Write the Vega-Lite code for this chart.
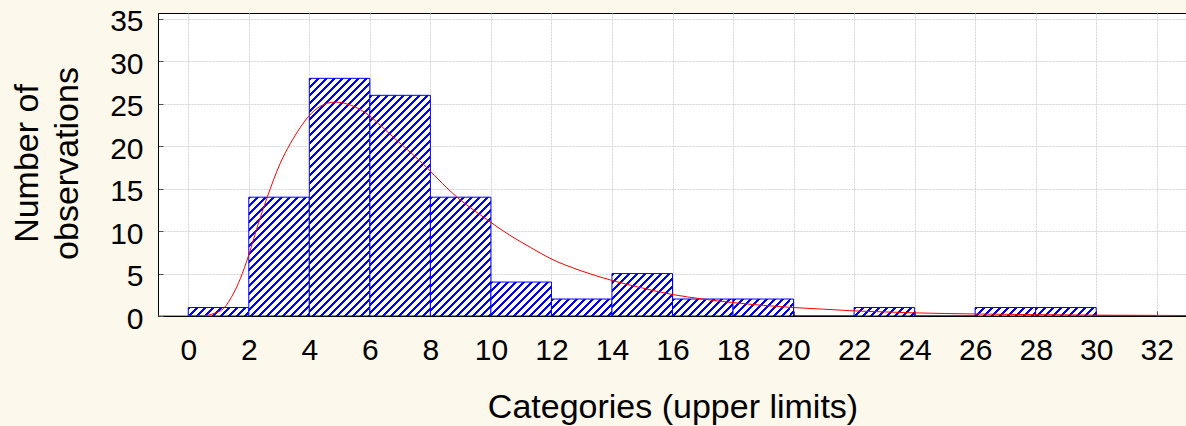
{
 "$schema": "https://vega.github.io/schema/vega-lite/v6.json",
 "width": 1029,
 "height": 303,
 "autosize": {"type": "none"},
 "padding": {"left": 158, "top": 13, "right": 0, "bottom": 110},
 "background": "#fdf8ec",
 "config": {
  "view": {"fill": "#ffffff", "stroke": "#000000", "strokeWidth": 1},
  "axis": {"labelFont": "Liberation Sans", "titleFont": "Liberation Sans", "labelColor": "#000000", "titleColor": "#000000", "titleFontWeight": "normal", "domainColor": "#000000", "tickColor": "#555555", "gridColor": "#d4d4d4", "gridDash": [2, 1], "labelFlush": false, "labelOverlap": false}
 },
 "datasets": {
  "bins": [
   {"start": 0, "end": 2, "count": 1},
   {"start": 2, "end": 4, "count": 14},
   {"start": 4, "end": 6, "count": 28},
   {"start": 6, "end": 8, "count": 26},
   {"start": 8, "end": 10, "count": 14},
   {"start": 10, "end": 12, "count": 4},
   {"start": 12, "end": 14, "count": 2},
   {"start": 14, "end": 16, "count": 5},
   {"start": 16, "end": 18, "count": 2},
   {"start": 18, "end": 20, "count": 2},
   {"start": 20, "end": 22, "count": 0},
   {"start": 22, "end": 24, "count": 1},
   {"start": 24, "end": 26, "count": 0},
   {"start": 26, "end": 28, "count": 1},
   {"start": 28, "end": 30, "count": 1},
   {"start": 30, "end": 32, "count": 0}
  ],
  "fit": [
   {"x": -1, "y": 0}, {"x": 0.3, "y": 0}, {"x": 0.5, "y": 0.02}, {"x": 0.85, "y": 0.3}, {"x": 1.17, "y": 0.9},
   {"x": 1.5, "y": 2.7}, {"x": 1.72, "y": 4.4}, {"x": 2.0, "y": 7.2}, {"x": 2.3, "y": 10.7}, {"x": 2.6, "y": 13.9},
   {"x": 3.04, "y": 18.0}, {"x": 3.37, "y": 20.3}, {"x": 3.7, "y": 22.2}, {"x": 3.97, "y": 23.5}, {"x": 4.36, "y": 24.7},
   {"x": 4.85, "y": 25.2}, {"x": 5.4, "y": 24.8}, {"x": 5.95, "y": 23.7}, {"x": 6.4, "y": 22.3}, {"x": 6.89, "y": 20.7},
   {"x": 7.4, "y": 19.1}, {"x": 7.88, "y": 17.5}, {"x": 8.4, "y": 15.6}, {"x": 8.98, "y": 13.7}, {"x": 9.5, "y": 12.3},
   {"x": 9.97, "y": 11.1}, {"x": 10.63, "y": 9.5}, {"x": 11.3, "y": 8.1}, {"x": 11.95, "y": 6.8}, {"x": 13.0, "y": 5.3},
   {"x": 13.99, "y": 4.2}, {"x": 15.0, "y": 3.3}, {"x": 15.97, "y": 2.55}, {"x": 17.0, "y": 2.0}, {"x": 17.95, "y": 1.6},
   {"x": 19.0, "y": 1.25}, {"x": 19.98, "y": 1.0}, {"x": 21.0, "y": 0.8}, {"x": 21.85, "y": 0.63}, {"x": 23, "y": 0.48},
   {"x": 24, "y": 0.37}, {"x": 26, "y": 0.24}, {"x": 28, "y": 0.16}, {"x": 30, "y": 0.1}, {"x": 32, "y": 0.07}, {"x": 33, "y": 0.06}
  ]
 },
 "layer": [
  {
   "data": {"name": "bins"},
   "mark": {"type": "rect", "stroke": "#0000ff", "strokeWidth": 1, "clip": true},
   "encoding": {
    "x": {"field": "start", "type": "quantitative", "scale": {"domain": [-1, 33], "nice": false, "zero": false},
     "axis": {"values": [0, 2, 4, 6, 8, 10, 12, 14, 16, 18, 20, 22, 24, 26, 28, 30, 32], "title": "Categories (upper limits)", "labelFontSize": 30, "titleFontSize": 34, "ticks": true, "tickSize": -5, "labelPadding": 24, "grid": true, "titleY": 101, "titleBaseline": "alphabetic"}},
    "x2": {"field": "end"},
    "y": {"field": "count", "type": "quantitative", "scale": {"domain": [0, 35.7], "nice": false},
     "axis": {"values": [0, 5, 10, 15, 20, 25, 30, 35], "title": ["Number of", "observations"], "labelFontSize": 30, "titleFontSize": 34, "ticks": true, "tickSize": -5, "labelPadding": 20, "labelOffset": 3, "grid": true, "titleX": -121, "titleY": 150, "titleAngle": -90, "titleAlign": "center", "titleBaseline": "alphabetic", "titleLineHeight": 40}},
    "y2": {"datum": 0},
    "fill": {
     "condition": [
      {"test": "datum.count == 1", "value": {"gradient": "linear", "x1": 0, "y1": 0, "x2": 1.1655, "y2": 0.16325, "stops": [
       {"offset": 0, "color": "#00f"}, {"offset": 0.0417, "color": "#00f"}, {"offset": 0.0417, "color": "#fff"}, {"offset": 0.1111, "color": "#fff"},
       {"offset": 0.1111, "color": "#00f"}, {"offset": 0.1528, "color": "#00f"}, {"offset": 0.1528, "color": "#fff"}, {"offset": 0.2222, "color": "#fff"},
       {"offset": 0.2222, "color": "#00f"}, {"offset": 0.2639, "color": "#00f"}, {"offset": 0.2639, "color": "#fff"}, {"offset": 0.3333, "color": "#fff"},
       {"offset": 0.3333, "color": "#00f"}, {"offset": 0.375, "color": "#00f"}, {"offset": 0.375, "color": "#fff"}, {"offset": 0.4444, "color": "#fff"},
       {"offset": 0.4444, "color": "#00f"}, {"offset": 0.4861, "color": "#00f"}, {"offset": 0.4861, "color": "#fff"}, {"offset": 0.5556, "color": "#fff"},
       {"offset": 0.5556, "color": "#00f"}, {"offset": 0.5972, "color": "#00f"}, {"offset": 0.5972, "color": "#fff"}, {"offset": 0.6667, "color": "#fff"},
       {"offset": 0.6667, "color": "#00f"}, {"offset": 0.7083, "color": "#00f"}, {"offset": 0.7083, "color": "#fff"}, {"offset": 0.7778, "color": "#fff"},
       {"offset": 0.7778, "color": "#00f"}, {"offset": 0.8194, "color": "#00f"}, {"offset": 0.8194, "color": "#fff"}, {"offset": 0.8889, "color": "#fff"},
       {"offset": 0.8889, "color": "#00f"}, {"offset": 0.9306, "color": "#00f"}, {"offset": 0.9306, "color": "#fff"}, {"offset": 1, "color": "#fff"}
      ]}},
      {"test": "datum.count == 2", "value": {"gradient": "linear", "x1": 0, "y1": 0, "x2": 1.2243, "y2": 0.343, "stops": [
       {"offset": 0, "color": "#00f"}, {"offset": 0.0375, "color": "#00f"}, {"offset": 0.0375, "color": "#fff"}, {"offset": 0.1, "color": "#fff"},
       {"offset": 0.1, "color": "#00f"}, {"offset": 0.1375, "color": "#00f"}, {"offset": 0.1375, "color": "#fff"}, {"offset": 0.2, "color": "#fff"},
       {"offset": 0.2, "color": "#00f"}, {"offset": 0.2375, "color": "#00f"}, {"offset": 0.2375, "color": "#fff"}, {"offset": 0.3, "color": "#fff"},
       {"offset": 0.3, "color": "#00f"}, {"offset": 0.3375, "color": "#00f"}, {"offset": 0.3375, "color": "#fff"}, {"offset": 0.4, "color": "#fff"},
       {"offset": 0.4, "color": "#00f"}, {"offset": 0.4375, "color": "#00f"}, {"offset": 0.4375, "color": "#fff"}, {"offset": 0.5, "color": "#fff"},
       {"offset": 0.5, "color": "#00f"}, {"offset": 0.5375, "color": "#00f"}, {"offset": 0.5375, "color": "#fff"}, {"offset": 0.6, "color": "#fff"},
       {"offset": 0.6, "color": "#00f"}, {"offset": 0.6375, "color": "#00f"}, {"offset": 0.6375, "color": "#fff"}, {"offset": 0.7, "color": "#fff"},
       {"offset": 0.7, "color": "#00f"}, {"offset": 0.7375, "color": "#00f"}, {"offset": 0.7375, "color": "#fff"}, {"offset": 0.8, "color": "#fff"},
       {"offset": 0.8, "color": "#00f"}, {"offset": 0.8375, "color": "#00f"}, {"offset": 0.8375, "color": "#fff"}, {"offset": 0.9, "color": "#fff"},
       {"offset": 0.9, "color": "#00f"}, {"offset": 0.9375, "color": "#00f"}, {"offset": 0.9375, "color": "#fff"}, {"offset": 1, "color": "#fff"}
      ]}},
      {"test": "datum.count == 4", "value": {"gradient": "linear", "x1": 0, "y1": 0, "x2": 1.2058, "y2": 0.6757, "stops": [
       {"offset": 0, "color": "#00f"}, {"offset": 0.0313, "color": "#00f"}, {"offset": 0.0313, "color": "#fff"}, {"offset": 0.0833, "color": "#fff"},
       {"offset": 0.0833, "color": "#00f"}, {"offset": 0.1146, "color": "#00f"}, {"offset": 0.1146, "color": "#fff"}, {"offset": 0.1667, "color": "#fff"},
       {"offset": 0.1667, "color": "#00f"}, {"offset": 0.1979, "color": "#00f"}, {"offset": 0.1979, "color": "#fff"}, {"offset": 0.25, "color": "#fff"},
       {"offset": 0.25, "color": "#00f"}, {"offset": 0.2813, "color": "#00f"}, {"offset": 0.2813, "color": "#fff"}, {"offset": 0.3333, "color": "#fff"},
       {"offset": 0.3333, "color": "#00f"}, {"offset": 0.3646, "color": "#00f"}, {"offset": 0.3646, "color": "#fff"}, {"offset": 0.4167, "color": "#fff"},
       {"offset": 0.4167, "color": "#00f"}, {"offset": 0.4479, "color": "#00f"}, {"offset": 0.4479, "color": "#fff"}, {"offset": 0.5, "color": "#fff"},
       {"offset": 0.5, "color": "#00f"}, {"offset": 0.5313, "color": "#00f"}, {"offset": 0.5313, "color": "#fff"}, {"offset": 0.5833, "color": "#fff"},
       {"offset": 0.5833, "color": "#00f"}, {"offset": 0.6146, "color": "#00f"}, {"offset": 0.6146, "color": "#fff"}, {"offset": 0.6667, "color": "#fff"},
       {"offset": 0.6667, "color": "#00f"}, {"offset": 0.6979, "color": "#00f"}, {"offset": 0.6979, "color": "#fff"}, {"offset": 0.75, "color": "#fff"},
       {"offset": 0.75, "color": "#00f"}, {"offset": 0.7813, "color": "#00f"}, {"offset": 0.7813, "color": "#fff"}, {"offset": 0.8333, "color": "#fff"},
       {"offset": 0.8333, "color": "#00f"}, {"offset": 0.8646, "color": "#00f"}, {"offset": 0.8646, "color": "#fff"}, {"offset": 0.9167, "color": "#fff"},
       {"offset": 0.9167, "color": "#00f"}, {"offset": 0.9479, "color": "#00f"}, {"offset": 0.9479, "color": "#fff"}, {"offset": 1, "color": "#fff"}
      ]}},
      {"test": "datum.count == 5", "value": {"gradient": "linear", "x1": 0, "y1": 0, "x2": 1.1515, "y2": 0.8066, "stops": [
       {"offset": 0, "color": "#00f"}, {"offset": 0.0288, "color": "#00f"}, {"offset": 0.0288, "color": "#fff"}, {"offset": 0.0769, "color": "#fff"},
       {"offset": 0.0769, "color": "#00f"}, {"offset": 0.1058, "color": "#00f"}, {"offset": 0.1058, "color": "#fff"}, {"offset": 0.1538, "color": "#fff"},
       {"offset": 0.1538, "color": "#00f"}, {"offset": 0.1827, "color": "#00f"}, {"offset": 0.1827, "color": "#fff"}, {"offset": 0.2308, "color": "#fff"},
       {"offset": 0.2308, "color": "#00f"}, {"offset": 0.2596, "color": "#00f"}, {"offset": 0.2596, "color": "#fff"}, {"offset": 0.3077, "color": "#fff"},
       {"offset": 0.3077, "color": "#00f"}, {"offset": 0.3365, "color": "#00f"}, {"offset": 0.3365, "color": "#fff"}, {"offset": 0.3846, "color": "#fff"},
       {"offset": 0.3846, "color": "#00f"}, {"offset": 0.4135, "color": "#00f"}, {"offset": 0.4135, "color": "#fff"}, {"offset": 0.4615, "color": "#fff"},
       {"offset": 0.4615, "color": "#00f"}, {"offset": 0.4904, "color": "#00f"}, {"offset": 0.4904, "color": "#fff"}, {"offset": 0.5385, "color": "#fff"},
       {"offset": 0.5385, "color": "#00f"}, {"offset": 0.5673, "color": "#00f"}, {"offset": 0.5673, "color": "#fff"}, {"offset": 0.6154, "color": "#fff"},
       {"offset": 0.6154, "color": "#00f"}, {"offset": 0.6442, "color": "#00f"}, {"offset": 0.6442, "color": "#fff"}, {"offset": 0.6923, "color": "#fff"},
       {"offset": 0.6923, "color": "#00f"}, {"offset": 0.7212, "color": "#00f"}, {"offset": 0.7212, "color": "#fff"}, {"offset": 0.7692, "color": "#fff"},
       {"offset": 0.7692, "color": "#00f"}, {"offset": 0.7981, "color": "#00f"}, {"offset": 0.7981, "color": "#fff"}, {"offset": 0.8462, "color": "#fff"},
       {"offset": 0.8462, "color": "#00f"}, {"offset": 0.875, "color": "#00f"}, {"offset": 0.875, "color": "#fff"}, {"offset": 0.9231, "color": "#fff"},
       {"offset": 0.9231, "color": "#00f"}, {"offset": 0.9519, "color": "#00f"}, {"offset": 0.9519, "color": "#fff"}, {"offset": 1, "color": "#fff"}
      ]}},
      {"test": "datum.count == 14", "value": {"gradient": "linear", "x1": 0, "y1": 0, "x2": 0.6267, "y2": 1.229, "stops": [
       {"offset": 0, "color": "#00f"}, {"offset": 0.0163, "color": "#00f"}, {"offset": 0.0163, "color": "#fff"}, {"offset": 0.0435, "color": "#fff"},
       {"offset": 0.0435, "color": "#00f"}, {"offset": 0.0598, "color": "#00f"}, {"offset": 0.0598, "color": "#fff"}, {"offset": 0.087, "color": "#fff"},
       {"offset": 0.087, "color": "#00f"}, {"offset": 0.1033, "color": "#00f"}, {"offset": 0.1033, "color": "#fff"}, {"offset": 0.1304, "color": "#fff"},
       {"offset": 0.1304, "color": "#00f"}, {"offset": 0.1467, "color": "#00f"}, {"offset": 0.1467, "color": "#fff"}, {"offset": 0.1739, "color": "#fff"},
       {"offset": 0.1739, "color": "#00f"}, {"offset": 0.1902, "color": "#00f"}, {"offset": 0.1902, "color": "#fff"}, {"offset": 0.2174, "color": "#fff"},
       {"offset": 0.2174, "color": "#00f"}, {"offset": 0.2337, "color": "#00f"}, {"offset": 0.2337, "color": "#fff"}, {"offset": 0.2609, "color": "#fff"},
       {"offset": 0.2609, "color": "#00f"}, {"offset": 0.2772, "color": "#00f"}, {"offset": 0.2772, "color": "#fff"}, {"offset": 0.3043, "color": "#fff"},
       {"offset": 0.3043, "color": "#00f"}, {"offset": 0.3207, "color": "#00f"}, {"offset": 0.3207, "color": "#fff"}, {"offset": 0.3478, "color": "#fff"},
       {"offset": 0.3478, "color": "#00f"}, {"offset": 0.3641, "color": "#00f"}, {"offset": 0.3641, "color": "#fff"}, {"offset": 0.3913, "color": "#fff"},
       {"offset": 0.3913, "color": "#00f"}, {"offset": 0.4076, "color": "#00f"}, {"offset": 0.4076, "color": "#fff"}, {"offset": 0.4348, "color": "#fff"},
       {"offset": 0.4348, "color": "#00f"}, {"offset": 0.4511, "color": "#00f"}, {"offset": 0.4511, "color": "#fff"}, {"offset": 0.4783, "color": "#fff"},
       {"offset": 0.4783, "color": "#00f"}, {"offset": 0.4946, "color": "#00f"}, {"offset": 0.4946, "color": "#fff"}, {"offset": 0.5217, "color": "#fff"},
       {"offset": 0.5217, "color": "#00f"}, {"offset": 0.538, "color": "#00f"}, {"offset": 0.538, "color": "#fff"}, {"offset": 0.5652, "color": "#fff"},
       {"offset": 0.5652, "color": "#00f"}, {"offset": 0.5815, "color": "#00f"}, {"offset": 0.5815, "color": "#fff"}, {"offset": 0.6087, "color": "#fff"},
       {"offset": 0.6087, "color": "#00f"}, {"offset": 0.625, "color": "#00f"}, {"offset": 0.625, "color": "#fff"}, {"offset": 0.6522, "color": "#fff"},
       {"offset": 0.6522, "color": "#00f"}, {"offset": 0.6685, "color": "#00f"}, {"offset": 0.6685, "color": "#fff"}, {"offset": 0.6957, "color": "#fff"},
       {"offset": 0.6957, "color": "#00f"}, {"offset": 0.712, "color": "#00f"}, {"offset": 0.712, "color": "#fff"}, {"offset": 0.7391, "color": "#fff"},
       {"offset": 0.7391, "color": "#00f"}, {"offset": 0.7554, "color": "#00f"}, {"offset": 0.7554, "color": "#fff"}, {"offset": 0.7826, "color": "#fff"},
       {"offset": 0.7826, "color": "#00f"}, {"offset": 0.7989, "color": "#00f"}, {"offset": 0.7989, "color": "#fff"}, {"offset": 0.8261, "color": "#fff"},
       {"offset": 0.8261, "color": "#00f"}, {"offset": 0.8424, "color": "#00f"}, {"offset": 0.8424, "color": "#fff"}, {"offset": 0.8696, "color": "#fff"},
       {"offset": 0.8696, "color": "#00f"}, {"offset": 0.8859, "color": "#00f"}, {"offset": 0.8859, "color": "#fff"}, {"offset": 0.913, "color": "#fff"},
       {"offset": 0.913, "color": "#00f"}, {"offset": 0.9293, "color": "#00f"}, {"offset": 0.9293, "color": "#fff"}, {"offset": 0.9565, "color": "#fff"},
       {"offset": 0.9565, "color": "#00f"}, {"offset": 0.9728, "color": "#00f"}, {"offset": 0.9728, "color": "#fff"}, {"offset": 1, "color": "#fff"}
      ]}},
      {"test": "datum.count == 26", "value": {"gradient": "linear", "x1": 0, "y1": 0, "x2": 0.3332, "y2": 1.2136, "stops": [
       {"offset": 0, "color": "#00f"}, {"offset": 0.0104, "color": "#00f"}, {"offset": 0.0104, "color": "#fff"}, {"offset": 0.0278, "color": "#fff"},
       {"offset": 0.0278, "color": "#00f"}, {"offset": 0.0382, "color": "#00f"}, {"offset": 0.0382, "color": "#fff"}, {"offset": 0.0556, "color": "#fff"},
       {"offset": 0.0556, "color": "#00f"}, {"offset": 0.066, "color": "#00f"}, {"offset": 0.066, "color": "#fff"}, {"offset": 0.0833, "color": "#fff"},
       {"offset": 0.0833, "color": "#00f"}, {"offset": 0.0938, "color": "#00f"}, {"offset": 0.0938, "color": "#fff"}, {"offset": 0.1111, "color": "#fff"},
       {"offset": 0.1111, "color": "#00f"}, {"offset": 0.1215, "color": "#00f"}, {"offset": 0.1215, "color": "#fff"}, {"offset": 0.1389, "color": "#fff"},
       {"offset": 0.1389, "color": "#00f"}, {"offset": 0.1493, "color": "#00f"}, {"offset": 0.1493, "color": "#fff"}, {"offset": 0.1667, "color": "#fff"},
       {"offset": 0.1667, "color": "#00f"}, {"offset": 0.1771, "color": "#00f"}, {"offset": 0.1771, "color": "#fff"}, {"offset": 0.1944, "color": "#fff"},
       {"offset": 0.1944, "color": "#00f"}, {"offset": 0.2049, "color": "#00f"}, {"offset": 0.2049, "color": "#fff"}, {"offset": 0.2222, "color": "#fff"},
       {"offset": 0.2222, "color": "#00f"}, {"offset": 0.2326, "color": "#00f"}, {"offset": 0.2326, "color": "#fff"}, {"offset": 0.25, "color": "#fff"},
       {"offset": 0.25, "color": "#00f"}, {"offset": 0.2604, "color": "#00f"}, {"offset": 0.2604, "color": "#fff"}, {"offset": 0.2778, "color": "#fff"},
       {"offset": 0.2778, "color": "#00f"}, {"offset": 0.2882, "color": "#00f"}, {"offset": 0.2882, "color": "#fff"}, {"offset": 0.3056, "color": "#fff"},
       {"offset": 0.3056, "color": "#00f"}, {"offset": 0.316, "color": "#00f"}, {"offset": 0.316, "color": "#fff"}, {"offset": 0.3333, "color": "#fff"},
       {"offset": 0.3333, "color": "#00f"}, {"offset": 0.3438, "color": "#00f"}, {"offset": 0.3438, "color": "#fff"}, {"offset": 0.3611, "color": "#fff"},
       {"offset": 0.3611, "color": "#00f"}, {"offset": 0.3715, "color": "#00f"}, {"offset": 0.3715, "color": "#fff"}, {"offset": 0.3889, "color": "#fff"},
       {"offset": 0.3889, "color": "#00f"}, {"offset": 0.3993, "color": "#00f"}, {"offset": 0.3993, "color": "#fff"}, {"offset": 0.4167, "color": "#fff"},
       {"offset": 0.4167, "color": "#00f"}, {"offset": 0.4271, "color": "#00f"}, {"offset": 0.4271, "color": "#fff"}, {"offset": 0.4444, "color": "#fff"},
       {"offset": 0.4444, "color": "#00f"}, {"offset": 0.4549, "color": "#00f"}, {"offset": 0.4549, "color": "#fff"}, {"offset": 0.4722, "color": "#fff"},
       {"offset": 0.4722, "color": "#00f"}, {"offset": 0.4826, "color": "#00f"}, {"offset": 0.4826, "color": "#fff"}, {"offset": 0.5, "color": "#fff"},
       {"offset": 0.5, "color": "#00f"}, {"offset": 0.5104, "color": "#00f"}, {"offset": 0.5104, "color": "#fff"}, {"offset": 0.5278, "color": "#fff"},
       {"offset": 0.5278, "color": "#00f"}, {"offset": 0.5382, "color": "#00f"}, {"offset": 0.5382, "color": "#fff"}, {"offset": 0.5556, "color": "#fff"},
       {"offset": 0.5556, "color": "#00f"}, {"offset": 0.566, "color": "#00f"}, {"offset": 0.566, "color": "#fff"}, {"offset": 0.5833, "color": "#fff"},
       {"offset": 0.5833, "color": "#00f"}, {"offset": 0.5938, "color": "#00f"}, {"offset": 0.5938, "color": "#fff"}, {"offset": 0.6111, "color": "#fff"},
       {"offset": 0.6111, "color": "#00f"}, {"offset": 0.6215, "color": "#00f"}, {"offset": 0.6215, "color": "#fff"}, {"offset": 0.6389, "color": "#fff"},
       {"offset": 0.6389, "color": "#00f"}, {"offset": 0.6493, "color": "#00f"}, {"offset": 0.6493, "color": "#fff"}, {"offset": 0.6667, "color": "#fff"},
       {"offset": 0.6667, "color": "#00f"}, {"offset": 0.6771, "color": "#00f"}, {"offset": 0.6771, "color": "#fff"}, {"offset": 0.6944, "color": "#fff"},
       {"offset": 0.6944, "color": "#00f"}, {"offset": 0.7049, "color": "#00f"}, {"offset": 0.7049, "color": "#fff"}, {"offset": 0.7222, "color": "#fff"},
       {"offset": 0.7222, "color": "#00f"}, {"offset": 0.7326, "color": "#00f"}, {"offset": 0.7326, "color": "#fff"}, {"offset": 0.75, "color": "#fff"},
       {"offset": 0.75, "color": "#00f"}, {"offset": 0.7604, "color": "#00f"}, {"offset": 0.7604, "color": "#fff"}, {"offset": 0.7778, "color": "#fff"},
       {"offset": 0.7778, "color": "#00f"}, {"offset": 0.7882, "color": "#00f"}, {"offset": 0.7882, "color": "#fff"}, {"offset": 0.8056, "color": "#fff"},
       {"offset": 0.8056, "color": "#00f"}, {"offset": 0.816, "color": "#00f"}, {"offset": 0.816, "color": "#fff"}, {"offset": 0.8333, "color": "#fff"},
       {"offset": 0.8333, "color": "#00f"}, {"offset": 0.8438, "color": "#00f"}, {"offset": 0.8438, "color": "#fff"}, {"offset": 0.8611, "color": "#fff"},
       {"offset": 0.8611, "color": "#00f"}, {"offset": 0.8715, "color": "#00f"}, {"offset": 0.8715, "color": "#fff"}, {"offset": 0.8889, "color": "#fff"},
       {"offset": 0.8889, "color": "#00f"}, {"offset": 0.8993, "color": "#00f"}, {"offset": 0.8993, "color": "#fff"}, {"offset": 0.9167, "color": "#fff"},
       {"offset": 0.9167, "color": "#00f"}, {"offset": 0.9271, "color": "#00f"}, {"offset": 0.9271, "color": "#fff"}, {"offset": 0.9444, "color": "#fff"},
       {"offset": 0.9444, "color": "#00f"}, {"offset": 0.9549, "color": "#00f"}, {"offset": 0.9549, "color": "#fff"}, {"offset": 0.9722, "color": "#fff"},
       {"offset": 0.9722, "color": "#00f"}, {"offset": 0.9826, "color": "#00f"}, {"offset": 0.9826, "color": "#fff"}, {"offset": 1, "color": "#fff"}
      ]}},
      {"test": "datum.count == 28", "value": {"gradient": "linear", "x1": 0, "y1": 0, "x2": 0.3062, "y2": 1.2011, "stops": [
       {"offset": 0, "color": "#00f"}, {"offset": 0.0099, "color": "#00f"}, {"offset": 0.0099, "color": "#fff"}, {"offset": 0.0263, "color": "#fff"},
       {"offset": 0.0263, "color": "#00f"}, {"offset": 0.0362, "color": "#00f"}, {"offset": 0.0362, "color": "#fff"}, {"offset": 0.0526, "color": "#fff"},
       {"offset": 0.0526, "color": "#00f"}, {"offset": 0.0625, "color": "#00f"}, {"offset": 0.0625, "color": "#fff"}, {"offset": 0.0789, "color": "#fff"},
       {"offset": 0.0789, "color": "#00f"}, {"offset": 0.0888, "color": "#00f"}, {"offset": 0.0888, "color": "#fff"}, {"offset": 0.1053, "color": "#fff"},
       {"offset": 0.1053, "color": "#00f"}, {"offset": 0.1151, "color": "#00f"}, {"offset": 0.1151, "color": "#fff"}, {"offset": 0.1316, "color": "#fff"},
       {"offset": 0.1316, "color": "#00f"}, {"offset": 0.1414, "color": "#00f"}, {"offset": 0.1414, "color": "#fff"}, {"offset": 0.1579, "color": "#fff"},
       {"offset": 0.1579, "color": "#00f"}, {"offset": 0.1678, "color": "#00f"}, {"offset": 0.1678, "color": "#fff"}, {"offset": 0.1842, "color": "#fff"},
       {"offset": 0.1842, "color": "#00f"}, {"offset": 0.1941, "color": "#00f"}, {"offset": 0.1941, "color": "#fff"}, {"offset": 0.2105, "color": "#fff"},
       {"offset": 0.2105, "color": "#00f"}, {"offset": 0.2204, "color": "#00f"}, {"offset": 0.2204, "color": "#fff"}, {"offset": 0.2368, "color": "#fff"},
       {"offset": 0.2368, "color": "#00f"}, {"offset": 0.2467, "color": "#00f"}, {"offset": 0.2467, "color": "#fff"}, {"offset": 0.2632, "color": "#fff"},
       {"offset": 0.2632, "color": "#00f"}, {"offset": 0.273, "color": "#00f"}, {"offset": 0.273, "color": "#fff"}, {"offset": 0.2895, "color": "#fff"},
       {"offset": 0.2895, "color": "#00f"}, {"offset": 0.2993, "color": "#00f"}, {"offset": 0.2993, "color": "#fff"}, {"offset": 0.3158, "color": "#fff"},
       {"offset": 0.3158, "color": "#00f"}, {"offset": 0.3257, "color": "#00f"}, {"offset": 0.3257, "color": "#fff"}, {"offset": 0.3421, "color": "#fff"},
       {"offset": 0.3421, "color": "#00f"}, {"offset": 0.352, "color": "#00f"}, {"offset": 0.352, "color": "#fff"}, {"offset": 0.3684, "color": "#fff"},
       {"offset": 0.3684, "color": "#00f"}, {"offset": 0.3783, "color": "#00f"}, {"offset": 0.3783, "color": "#fff"}, {"offset": 0.3947, "color": "#fff"},
       {"offset": 0.3947, "color": "#00f"}, {"offset": 0.4046, "color": "#00f"}, {"offset": 0.4046, "color": "#fff"}, {"offset": 0.4211, "color": "#fff"},
       {"offset": 0.4211, "color": "#00f"}, {"offset": 0.4309, "color": "#00f"}, {"offset": 0.4309, "color": "#fff"}, {"offset": 0.4474, "color": "#fff"},
       {"offset": 0.4474, "color": "#00f"}, {"offset": 0.4572, "color": "#00f"}, {"offset": 0.4572, "color": "#fff"}, {"offset": 0.4737, "color": "#fff"},
       {"offset": 0.4737, "color": "#00f"}, {"offset": 0.4836, "color": "#00f"}, {"offset": 0.4836, "color": "#fff"}, {"offset": 0.5, "color": "#fff"},
       {"offset": 0.5, "color": "#00f"}, {"offset": 0.5099, "color": "#00f"}, {"offset": 0.5099, "color": "#fff"}, {"offset": 0.5263, "color": "#fff"},
       {"offset": 0.5263, "color": "#00f"}, {"offset": 0.5362, "color": "#00f"}, {"offset": 0.5362, "color": "#fff"}, {"offset": 0.5526, "color": "#fff"},
       {"offset": 0.5526, "color": "#00f"}, {"offset": 0.5625, "color": "#00f"}, {"offset": 0.5625, "color": "#fff"}, {"offset": 0.5789, "color": "#fff"},
       {"offset": 0.5789, "color": "#00f"}, {"offset": 0.5888, "color": "#00f"}, {"offset": 0.5888, "color": "#fff"}, {"offset": 0.6053, "color": "#fff"},
       {"offset": 0.6053, "color": "#00f"}, {"offset": 0.6151, "color": "#00f"}, {"offset": 0.6151, "color": "#fff"}, {"offset": 0.6316, "color": "#fff"},
       {"offset": 0.6316, "color": "#00f"}, {"offset": 0.6414, "color": "#00f"}, {"offset": 0.6414, "color": "#fff"}, {"offset": 0.6579, "color": "#fff"},
       {"offset": 0.6579, "color": "#00f"}, {"offset": 0.6678, "color": "#00f"}, {"offset": 0.6678, "color": "#fff"}, {"offset": 0.6842, "color": "#fff"},
       {"offset": 0.6842, "color": "#00f"}, {"offset": 0.6941, "color": "#00f"}, {"offset": 0.6941, "color": "#fff"}, {"offset": 0.7105, "color": "#fff"},
       {"offset": 0.7105, "color": "#00f"}, {"offset": 0.7204, "color": "#00f"}, {"offset": 0.7204, "color": "#fff"}, {"offset": 0.7368, "color": "#fff"},
       {"offset": 0.7368, "color": "#00f"}, {"offset": 0.7467, "color": "#00f"}, {"offset": 0.7467, "color": "#fff"}, {"offset": 0.7632, "color": "#fff"},
       {"offset": 0.7632, "color": "#00f"}, {"offset": 0.773, "color": "#00f"}, {"offset": 0.773, "color": "#fff"}, {"offset": 0.7895, "color": "#fff"},
       {"offset": 0.7895, "color": "#00f"}, {"offset": 0.7993, "color": "#00f"}, {"offset": 0.7993, "color": "#fff"}, {"offset": 0.8158, "color": "#fff"},
       {"offset": 0.8158, "color": "#00f"}, {"offset": 0.8257, "color": "#00f"}, {"offset": 0.8257, "color": "#fff"}, {"offset": 0.8421, "color": "#fff"},
       {"offset": 0.8421, "color": "#00f"}, {"offset": 0.852, "color": "#00f"}, {"offset": 0.852, "color": "#fff"}, {"offset": 0.8684, "color": "#fff"},
       {"offset": 0.8684, "color": "#00f"}, {"offset": 0.8783, "color": "#00f"}, {"offset": 0.8783, "color": "#fff"}, {"offset": 0.8947, "color": "#fff"},
       {"offset": 0.8947, "color": "#00f"}, {"offset": 0.9046, "color": "#00f"}, {"offset": 0.9046, "color": "#fff"}, {"offset": 0.9211, "color": "#fff"},
       {"offset": 0.9211, "color": "#00f"}, {"offset": 0.9309, "color": "#00f"}, {"offset": 0.9309, "color": "#fff"}, {"offset": 0.9474, "color": "#fff"},
       {"offset": 0.9474, "color": "#00f"}, {"offset": 0.9572, "color": "#00f"}, {"offset": 0.9572, "color": "#fff"}, {"offset": 0.9737, "color": "#fff"},
       {"offset": 0.9737, "color": "#00f"}, {"offset": 0.9836, "color": "#00f"}, {"offset": 0.9836, "color": "#fff"}, {"offset": 1, "color": "#fff"}
      ]}}
     ],
     "value": "#ffffff"
    }
   }
  },
  {
   "data": {"name": "fit"},
   "mark": {"type": "line", "color": "#ff0000", "strokeWidth": 1, "interpolate": "monotone", "clip": true},
   "encoding": {
    "x": {"field": "x", "type": "quantitative"},
    "y": {"field": "y", "type": "quantitative"}
   }
  }
 ]
}
